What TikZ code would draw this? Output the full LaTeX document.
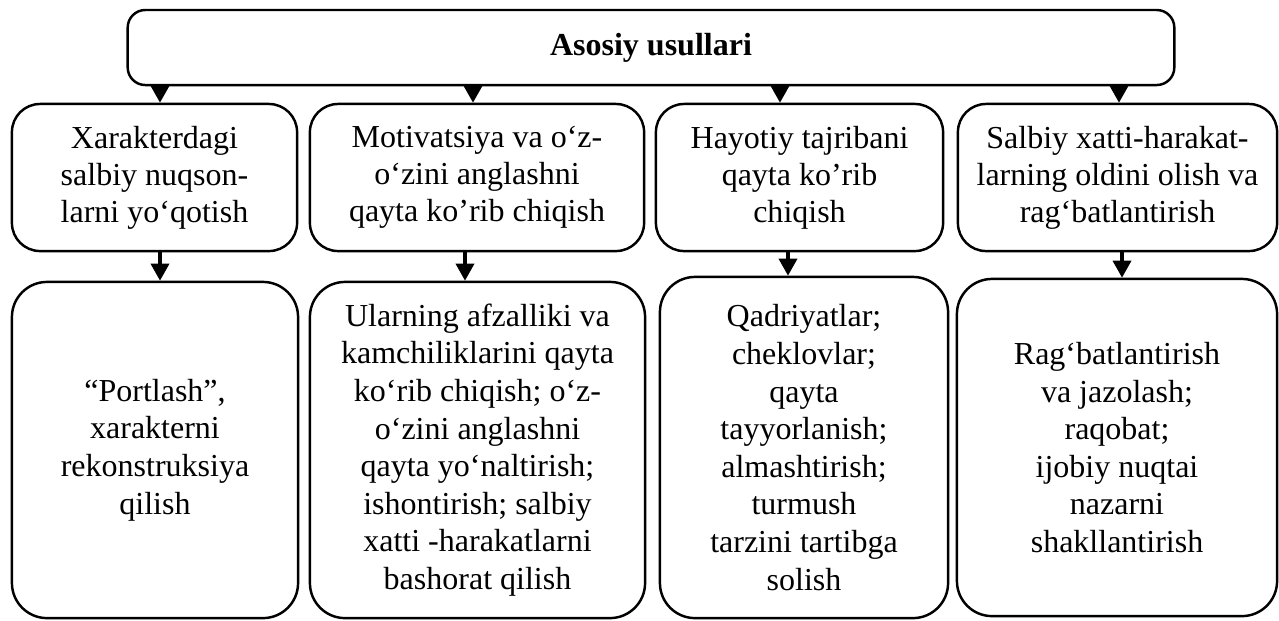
\documentclass[tikz,border=0pt]{standalone}
\usepackage{fontspec}
\setmainfont{Liberation Serif}
\usetikzlibrary{arrows.meta}

\begin{document}
\begin{tikzpicture}[x=0.01cm, y=-0.01cm]
      % styles
      \tikzstyle{topbox} = [rectangle, rounded corners=5pt, draw, line width=0.7pt, align=center, font=\fontsize{9.1}{10.5}\selectfont\bfseries]
      \tikzstyle{midbox} = [rectangle, rounded corners=8pt, draw, line width=0.7pt, align=center, inner sep=0pt, font=\fontsize{9.1}{10.5}\selectfont]
      \tikzstyle{lowbox} = [rectangle, rounded corners=10pt, draw, line width=0.7pt, align=center, inner sep=0pt, font=\fontsize{9.1}{10.7}\selectfont]
      \tikzstyle{arr} = [-{Triangle[length=0.17cm,width=0.18cm]}, line width=1pt]

      \useasboundingbox (0,0) rectangle (1279,620);

      % top: title
      \node[topbox, minimum width=10.46cm, minimum height=0.75cm] (top) at (651,47.5) {Asosiy usullari};

      % middle row
      \node[midbox, minimum width=2.85cm, minimum height=1.47cm] (b1) at (154.5,177.5) {Xarakterdagi\\salbiy nuqson-\\larni yo‘qotish};
      \node[midbox, minimum width=3.34cm, minimum height=1.47cm] (b2) at (477,177.5) {Motivatsiya va o‘z-\\o‘zini anglashni\\qayta ko’rib chiqish};
      \node[midbox, minimum width=2.87cm, minimum height=1.47cm] (b3) at (799.5,177.5) {Hayotiy tajribani\\qayta ko’rib\\chiqish};
      \node[midbox, minimum width=3.19cm, minimum height=1.47cm] (b4) at (1117.5,177.5) {Salbiy xatti-harakat-\\larning oldini olish va\\rag‘batlantirish};

      % bottom row
      \node[lowbox, minimum width=2.86cm, minimum height=3.36cm] (c1) at (155,450) {“Portlash”,\\xarakterni\\rekonstruksiya\\qilish};
      \node[lowbox, minimum width=3.35cm, minimum height=3.36cm] (c2) at (477.5,450) {Ularning afzalliki va\\kamchiliklarini qayta\\ko‘rib chiqish; o‘z-\\o‘zini anglashni\\qayta yo‘naltirish;\\ishontirish; salbiy\\xatti -harakatlarni\\bashorat qilish};
      \node[lowbox, minimum width=2.88cm, minimum height=3.41cm] (c3) at (804,447.5) {Qadriyatlar;\\cheklovlar;\\qayta\\tayyorlanish;\\almashtirish;\\turmush\\tarzini tartibga\\solish};
      \node[lowbox, minimum width=3.20cm, minimum height=3.37cm] (c4) at (1117,447.5) {Rag‘batlantirish\\va jazolash;\\raqobat;\\ijobiy nuqtai\\nazarni\\shakllantirish};

      % arrows
      \draw[arr] ([xshift=0.055cm]top.south -| b1.north) -- ([xshift=0.055cm]b1.north);
      \draw[arr] ([xshift=-0.04cm]top.south -| b2.north) -- ([xshift=-0.04cm]b2.north);
      \draw[arr] ([xshift=-0.195cm]top.south -| b3.north) -- ([xshift=-0.195cm]b3.north);
      \draw[arr] ([xshift=0.015cm]top.south -| b4.north) -- ([xshift=0.015cm]b4.north);
      \draw[arr] ([xshift=0.055cm]b1.south) -- ([xshift=0.055cm]b1.south |- c1.north);
      \draw[arr] ([xshift=-0.12cm]b2.south) -- ([xshift=-0.12cm]b2.south |- c2.north);
      \draw[arr] ([xshift=-0.115cm]b3.south) -- ([xshift=-0.115cm]b3.south |- c3.north);
      \draw[arr] ([xshift=0.045cm]b4.south) -- ([xshift=0.045cm]b4.south |- c4.north);
\end{tikzpicture}
\end{document}
